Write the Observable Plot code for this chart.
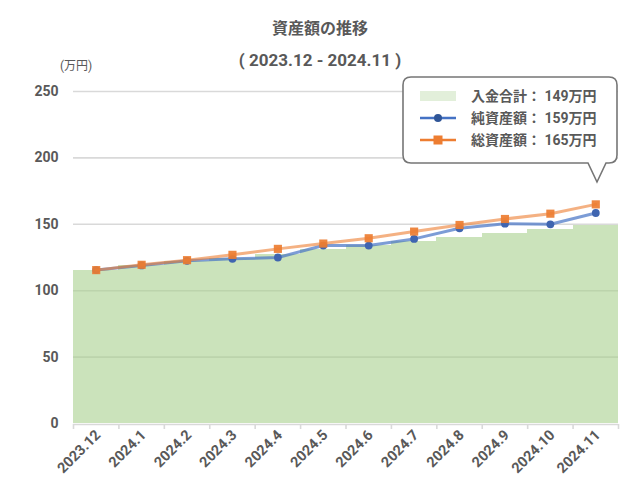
<!DOCTYPE html>
<html><head><meta charset="utf-8">
<script src="https://cdn.jsdelivr.net/npm/d3@7"></script>
<script src="https://cdn.jsdelivr.net/npm/@observablehq/plot@0.6"></script>
<style>
body{margin:0;background:#fff;}
#wrap{position:relative;width:640px;height:503px;font-family:Roboto,"Noto Sans CJK JP",sans-serif;color:#595959;}
#wrap > svg.plot{position:absolute;left:0;top:0;}
#overlay{position:absolute;left:0;top:0;pointer-events:none;}
</style></head><body><div id="wrap"></div>
<script>
const months = ["2023.12","2024.1","2024.2","2024.3","2024.4","2024.5","2024.6","2024.7","2024.8","2024.9","2024.10","2024.11"];
const deposit = [115.5, 119, 122, 124.5, 127.5, 131, 134, 137, 140, 143, 146, 149];
const netAssets = [115.5, 119, 122.5, 124, 125, 134, 134, 139, 147, 150.5, 150, 158.5];
const totalAssets = [115.5, 119.5, 123, 127, 131.5, 135.5, 139.5, 144.5, 149.5, 154, 158, 165];
const yTicks = [0, 50, 100, 150, 200, 250];
const seriesNames = ["入金合計", "純資産額", "総資産額"];
const titleText = "資産額の推移";
const subtitleText = "( 2023.12 - 2024.11 )";
const unitText = "(万円)";

const FONT = 'Roboto, "Noto Sans CJK JP", sans-serif';
const TXT = "#595959";
const rows = months.map((m, i) => ({m, i, c: i + 0.5, deposit: deposit[i], net: netAssets[i], total: totalAssets[i]}));

const chart = Plot.plot({
  width: 640, height: 503,
  marginTop: 91, marginBottom: 80, marginLeft: 73, marginRight: 22,
  x: {type: "linear", domain: [0, months.length]},
  y: {domain: [0, 250]},
  style: {fontFamily: FONT, fontSize: "14px", fontWeight: "bold", color: TXT, background: "white"},
  marks: [
    Plot.ruleY(yTicks.filter(d => d > 0), {stroke: "#d9d9d9", strokeWidth: 1.6}),
    Plot.rectY(rows, {x1: "i", x2: d => d.i + 1, y: "deposit", fill: "#a9d18e", fillOpacity: 0.6, shapeRendering: "crispEdges"}),
    Plot.ruleY([0], {stroke: "#d9d9d9", strokeWidth: 1.6, dy: 1}),
    Plot.axisX({ticks: d3.range(months.length + 1), tickFormat: () => "", tickSize: 5, stroke: "#d9d9d9", strokeWidth: 1.6, dy: 1}),
    Plot.axisX({ticks: rows.map(d => d.c), tickFormat: d => months[Math.floor(d)], tickSize: 0, tickPadding: 9, tickRotate: -45, fill: TXT, fontSize: 14.5, fontWeight: "bold", dx: 2}),
    Plot.axisY({ticks: yTicks, tickSize: 0, tickPadding: 15, fill: TXT, fontSize: 14, fontWeight: "bold"}),
    Plot.line(rows, {x: "c", y: "net", stroke: "#4472c4", strokeOpacity: 0.7, strokeWidth: 3}),
    Plot.dot(rows, {x: "c", y: "net", r: 3.9, fill: "#3f65b0"}),
    Plot.line(rows, {x: "c", y: "total", stroke: "#ed7d31", strokeOpacity: 0.6, strokeWidth: 3}),
    Plot.dot(rows, {x: "c", y: "total", symbol: "square", r: 4.6, fill: "#ed7d31", fillOpacity: 0.92})
  ]
});
chart.classList.add("plot");
const wrap = document.getElementById("wrap");
wrap.appendChild(chart);

// overlay: titles, unit, legend callout
const ov = d3.select(wrap).append("svg").attr("id", "overlay").attr("width", 640).attr("height", 503)
  .style("font-family", FONT).style("font-weight", "bold").attr("fill", TXT);
ov.append("text").attr("x", 320).attr("y", 28).attr("text-anchor", "middle").attr("dominant-baseline", "central")
  .style("font-size", "16px").text(titleText);
ov.append("text").attr("x", 320).attr("y", 60).attr("text-anchor", "middle").attr("dominant-baseline", "central")
  .style("font-size", "17px").text(subtitleText);
ov.append("text").attr("x", 60).attr("y", 66).attr("dominant-baseline", "central")
  .style("font-size", "12px").style("font-weight", "normal").text(unitText);

ov.append("path")
  .attr("d", "M411,77 H609 Q617,77 617,85 V155 Q617,163 609,163 H606 L597,182 L588,163 H411 Q403,163 403,155 V85 Q403,77 411,77 Z")
  .attr("fill", "white").attr("stroke", "#767676").attr("stroke-width", 1.6);

const lastVals = [deposit, netAssets, totalAssets].map(a => Math.round(a[a.length - 1]));
const rowY = [96, 118, 140];
ov.append("rect").attr("x", 420).attr("y", rowY[0] - 5).attr("width", 36).attr("height", 10).attr("fill", "#e2efda");
ov.append("line").attr("x1", 420).attr("x2", 456).attr("y1", rowY[1]).attr("y2", rowY[1]).attr("stroke", "#4472c4").attr("stroke-width", 2.5);
ov.append("circle").attr("cx", 438).attr("cy", rowY[1]).attr("r", 4).attr("fill", "#2f5597");
ov.append("line").attr("x1", 420).attr("x2", 456).attr("y1", rowY[2]).attr("y2", rowY[2]).attr("stroke", "#ed7d31").attr("stroke-width", 2.5);
ov.append("rect").attr("x", 433.5).attr("y", rowY[2] - 4.5).attr("width", 9).attr("height", 9).attr("fill", "#ed7d31");
seriesNames.forEach((n, k) => {
  ov.append("text").attr("x", 471).attr("y", rowY[k]).attr("dominant-baseline", "central")
    .style("font-size", "14px").text(`${n}： ${lastVals[k]}万円`);
});
</script>
</body></html>
